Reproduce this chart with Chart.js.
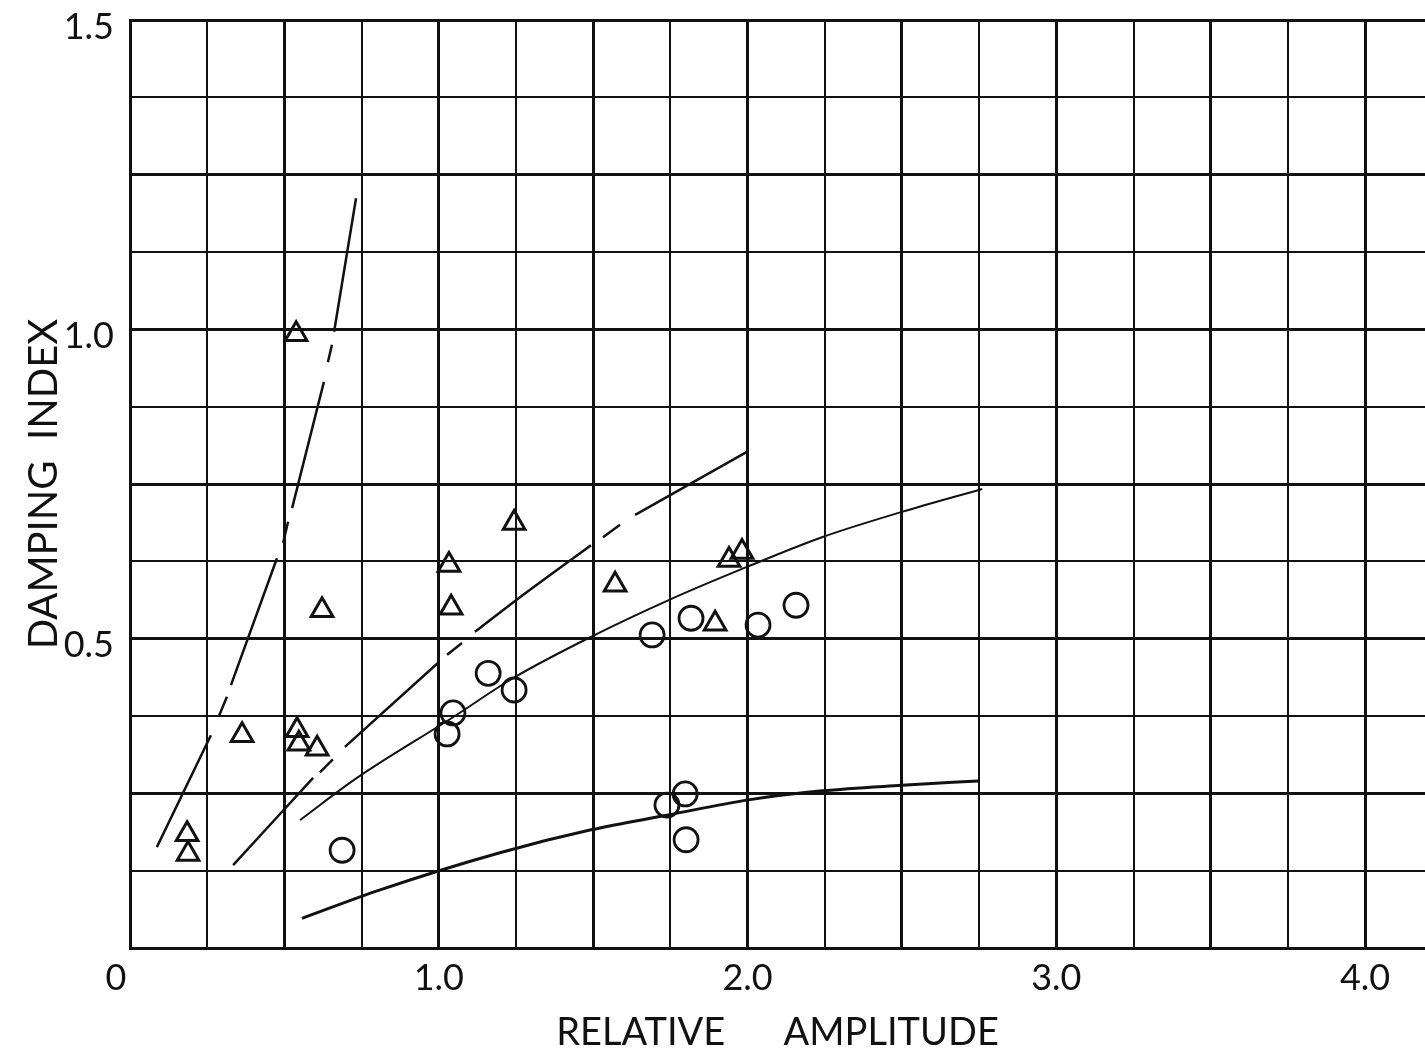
<!DOCTYPE html>
<html>
<head>
<meta charset="utf-8">
<script src="https://cdn.jsdelivr.net/npm/chart.js@4.4.0/dist/chart.umd.min.js"></script>
<style>
  html, body { margin: 0; padding: 0; background: #fff; }
</style>
</head>
<body>
<canvas id="damping" width="1425" height="1049"></canvas>
<script>
/* Damping index vs. relative amplitude */

const INK = '#111';
const FONT = 'Lato, "Liberation Sans", sans-serif';

// ── Test points ──
const triangleX = [0.185, 0.188, 0.363, 0.538, 0.541, 0.547, 0.606, 0.622, 1.033, 1.040, 1.244, 1.571, 1.895, 1.940, 1.982];
const triangleY = [0.184, 0.152, 0.344, 0.992, 0.352, 0.330, 0.322, 0.546, 0.619, 0.550, 0.687, 0.587, 0.524, 0.627, 0.640];

const circleX = [0.687, 1.027, 1.046, 1.160, 1.244, 1.691, 1.817, 2.034, 2.157, 1.739, 1.798, 1.801];
const circleY = [0.158, 0.346, 0.380, 0.444, 0.417, 0.506, 0.533, 0.522, 0.554, 0.231, 0.249, 0.175];

// ── Faired curves (null = break between dashes) ──
const curve1X = [0.087, 0.262, null, 0.288, 0.314, null, 0.327, 0.476, null, 0.496, 0.512, null, 0.525, 0.628, null, 0.641, 0.654, null, 0.661, 0.732];
const curve1Y = [0.163, 0.344, null, 0.375, 0.406, null, 0.425, 0.630, null, 0.655, 0.689, null, 0.711, 0.915, null, 0.947, 0.975, null, 0.996, 1.212];

const curve2X = [0.334, 0.593, null, 0.615, 0.657, null, 0.696, 0.998, null, 1.027, 1.075, null, 1.117, 1.263, 1.493, null, 1.532, 1.587, null, 1.636, 1.998];
const curve2Y = [0.134, 0.275, null, 0.284, 0.305, null, 0.325, 0.461, null, 0.474, 0.493, null, 0.511, 0.567, 0.651, null, 0.664, 0.684, null, 0.700, 0.802];

const curve3X = [0.551, 0.735, 1.046, 1.240, 1.493, 1.743, 1.998, 2.241, 2.500, 2.760];
const curve3Y = [0.207, 0.275, 0.373, 0.436, 0.503, 0.562, 0.616, 0.664, 0.705, 0.742];

const curve4X = [0.557, 0.810, 1.198, 1.493, 1.743, 1.998, 2.241, 2.500, 2.747];
const curve4Y = [0.048, 0.094, 0.154, 0.191, 0.215, 0.239, 0.254, 0.263, 0.270];

// ── Axes ──
const xMax = 4.194;
const yMax = 1.5;
const xStep = 0.25;     // grid spacing
const yStep = 0.125;
const xTickValues = [0, 1, 2, 3, 4];
const xTickLabels = ['0', '1.0', '2.0', '3.0', '4.0'];
const yTickValues = [0.5, 1, 1.5];
const yTickLabels = ['0.5', '1.0', '1.5'];

const xTitle = 'RELATIVE      AMPLITUDE';
const yTitle = 'DAMPING  INDEX';

function pairs(xs, ys) {
  return xs.map((x, i) => ({ x: x, y: ys[i] }));
}

function gridTicks(max, step) {
  const ticks = [];
  for (let i = 0; i * step <= max + 1e-9; i++) ticks.push({ value: i * step });
  return ticks;
}

function labelFor(values, labels, v) {
  const i = values.findIndex(t => Math.abs(t - v) < 1e-6);
  return i < 0 ? '' : labels[i];
}

function curve(xs, ys, width) {
  return {
    type: 'line',
    data: pairs(xs, ys),
    borderColor: INK,
    borderWidth: width,
    pointRadius: 0,
    fill: false,
    spanGaps: false,
    cubicInterpolationMode: 'monotone'
  };
}

// keep the plot box fixed: no extra room for edge labels
function noPadding(s) {
  s.paddingTop = 0;
  s.paddingBottom = 0;
  s.paddingLeft = 0;
  s.paddingRight = 0;
}

const X_PAD = 12;
const TICK_SIZE = 36;

// origin "0" sits left of the corner
const originLabel = {
  id: 'originLabel',
  afterDraw(chart) {
    const { ctx, scales: { x } } = chart;
    ctx.save();
    ctx.font = `${TICK_SIZE}px ${FONT}`;
    ctx.fillStyle = INK;
    ctx.textAlign = 'center';
    ctx.textBaseline = 'middle';
    ctx.fillText(xTickLabels[0], x.getPixelForValue(xTickValues[0]) - 14, x.top + X_PAD + TICK_SIZE / 2);
    ctx.restore();
  }
};

new Chart(document.getElementById('damping'), {
  type: 'scatter',
  data: {
    datasets: [
      curve(curve1X, curve1Y, 2.5),
      curve(curve2X, curve2Y, 2.5),
      curve(curve3X, curve3Y, 2),
      curve(curve4X, curve4Y, 3),
      {
        type: 'scatter',
        data: pairs(triangleX, triangleY),
        pointStyle: 'triangle',
        pointRadius: 12.5,
        pointBorderWidth: 3,
        pointBorderColor: INK,
        pointBackgroundColor: 'rgba(0,0,0,0)'
      },
      {
        type: 'scatter',
        data: pairs(circleX, circleY),
        pointStyle: 'circle',
        pointRadius: 12,
        pointBorderWidth: 2.8,
        pointBorderColor: INK,
        pointBackgroundColor: 'rgba(0,0,0,0)'
      }
    ]
  },
  options: {
    responsive: false,
    animation: false,
    events: [],
    layout: { autoPadding: false, padding: { top: 20, left: 0, right: 0, bottom: 0 } },
    plugins: { legend: { display: false }, tooltip: { enabled: false } },
    scales: {
      x: {
        type: 'linear',
        min: 0,
        max: xMax,
        afterBuildTicks: s => { s.ticks = gridTicks(4, xStep); },
        afterFit: s => { s.height = 101; noPadding(s); },
        border: { display: true, width: 3, color: INK },
        grid: {
          color: INK,
          drawTicks: false,
          lineWidth: c => (c.tick && Math.abs(c.tick.value % 0.5) < 1e-6) ? 3 : 2
        },
        ticks: {
          padding: X_PAD,
          color: INK,
          maxRotation: 0,
          autoSkip: false,
          font: { family: FONT, size: TICK_SIZE, lineHeight: 1 },
          callback: v => v === 0 ? '' : labelFor(xTickValues, xTickLabels, v)
        },
        title: {
          display: true,
          text: xTitle,
          color: INK,
          font: { family: FONT, size: 38, lineHeight: 0.8 },
          padding: { top: 0, bottom: 1 }
        }
      },
      y: {
        type: 'linear',
        min: 0,
        max: yMax,
        afterBuildTicks: s => { s.ticks = gridTicks(yMax, yStep); },
        afterFit: s => { s.width = 130; noPadding(s); },
        border: { display: true, width: 3, color: INK },
        grid: {
          color: INK,
          drawTicks: false,
          lineWidth: c => (c.tick && Math.abs(c.tick.value % 0.25) < 1e-6) ? 3 : 2
        },
        ticks: {
          padding: 16,
          color: INK,
          autoSkip: false,
          labelOffset: 7,
          font: { family: FONT, size: TICK_SIZE, lineHeight: 1 },
          callback: v => labelFor(yTickValues, yTickLabels, v)
        },
        title: {
          display: true,
          text: yTitle,
          color: INK,
          font: { family: FONT, size: 40, lineHeight: 0.8 },
          padding: { top: 28, bottom: 0 }
        }
      }
    }
  },
  plugins: [originLabel]
});
</script>
</body>
</html>
